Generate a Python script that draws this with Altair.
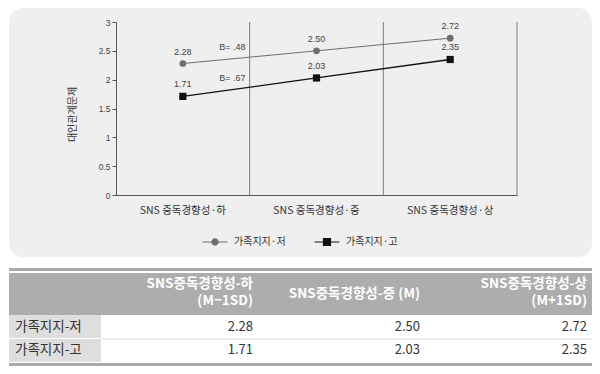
import altair as alt
import pandas as pd

# ---------------- data ----------------
categories = ["SNS 중독경향성·하", "SNS 중독경향성·중", "SNS 중독경향성·상"]
series = ["가족지지·저", "가족지지·고"]
low_support = [2.28, 2.50, 2.72]
high_support = [1.71, 2.03, 2.35]
b_labels = ["B= .48", "B= .67"]
y_ticks = [0, 0.5, 1, 1.5, 2, 2.5, 3]

table_columns = ["SNS중독경향성-하\n(M−1SD)", "SNS중독경향성-중 (M)", "SNS중독경향성-상\n(M+1SD)"]
table_rows = ["가족지지-저", "가족지지-고"]

KFONT = "Noto Sans CJK KR"
LFONT = "Liberation Sans, Noto Sans CJK KR"

series_values = [low_support, high_support]
records = []
for s, vals in zip(series, series_values):
    for c, v in zip(categories, vals):
        records.append({"series": s, "cat": c, "value": v})
df = pd.DataFrame(records)

# B annotations: anchored on the line segment between first and second level
frac = 0.37
b_records = []
for s, vals, lab in zip(series, series_values, b_labels):
    b_records.append({"series": s, "cat": categories[0], "label": lab,
                      "anchor": vals[0] + (vals[1] - vals[0]) * frac})
df_b = pd.DataFrame(b_records)

t_records = []
for r, vals in zip(table_rows, series_values):
    for c, v in zip(table_columns, vals):
        t_records.append({"row": r, "col": c, "value": v})
df_t = pd.DataFrame(t_records)
df_rows = pd.DataFrame({"row": table_rows})
df_cols = pd.DataFrame({"col": table_columns})
df_series = pd.DataFrame({"series": series})
one = pd.DataFrame({"a": [0]})

# ---------------- scales / axes ----------------
x_scale = alt.Scale(type="band", domain=categories, paddingInner=0, paddingOuter=0)
y_scale = alt.Scale(domain=[0, 3], nice=False)
series_colors = ["#6e6e6e", "#111111"]
color_scale = alt.Scale(domain=series, range=series_colors)

x_axis = alt.Axis(title=None, labelAngle=0, ticks=False, tickSize=0, labelPadding=10,
                  labelFontSize=10.5, labelColor="#333", labelFont=KFONT,
                  domainColor="#555", grid=False, zindex=1)
y_axis = alt.Axis(values=y_ticks, format="~g", tickSize=4, tickColor="#555",
                  domainColor="#555", labelFontSize=8.5, labelColor="#444",
                  labelFont=LFONT, labelPadding=2, grid=False, zindex=1,
                  titleX=-44, titleY=92, titleAngle=270, titleAlign="center",
                  titleBaseline="middle", titleFontSize=10, titleFontWeight="normal",
                  titleColor="#333", titleFont=KFONT)
Y_TITLE = "대인관계문제"


def X(**kw):
    return alt.X("cat:N", scale=x_scale, axis=x_axis, **kw)


def Y(field):
    return alt.Y(field, scale=y_scale, axis=y_axis, title=Y_TITLE)


panel = alt.Chart(one).mark_rect(color="#efefef", cornerRadius=14).encode(
    x=alt.value(-107), x2=alt.value(476), y=alt.value(-14), y2=alt.value(235)
)

df_grid = pd.DataFrame({"cat": categories, "lo": [0] * 3, "hi": [3] * 3})
rules = alt.Chart(df_grid).mark_rule(color="#7a7a7a", strokeWidth=1).encode(
    x=X(bandPosition=1), y=Y("lo:Q"), y2="hi:Q"
)

lines = alt.Chart(df).mark_line().encode(
    x=X(), y=Y("value:Q"),
    stroke=alt.Stroke("series:N", scale=color_scale, legend=None),
    strokeWidth=alt.StrokeWidth("series:N", scale=alt.Scale(domain=series, range=[1, 1.3]), legend=None),
)

points_low = alt.Chart(df).transform_filter(alt.datum.series == series[0]).mark_point(
    filled=True, opacity=1, shape="circle", size=45
).encode(x=X(), y=Y("value:Q"), fill=alt.Fill("series:N", scale=color_scale, legend=None))

points_high = alt.Chart(df).transform_filter(alt.datum.series == series[1]).mark_point(
    filled=True, opacity=1, shape="square", size=52
).encode(x=X(), y=Y("value:Q"), fill=alt.Fill("series:N", scale=color_scale, legend=None))

value_labels = alt.Chart(df).mark_text(dy=-12, fontSize=9, color="#444", font=LFONT).encode(
    x=X(), y=Y("value:Q"), text=alt.Text("value:Q", format=".2f")
)

b_text = alt.Chart(df_b).mark_text(dy=-12, fontSize=9, color="#444", font=LFONT).encode(
    x=X(bandPosition=0.87), y=Y("anchor:Q"), text="label:N"
)

top = alt.layer(panel, rules, lines, points_low, points_high, value_labels, b_text)


# ---------------- legend (drawn as marks on its own band scale) ----------------
def ring(r):
    return f"M{r},0A{r},{r},0,1,1,{-r},0A{r},{r},0,1,1,{r},0Z"


def box(h):
    return f"M{-h},{-h}H{h}V{h}H{-h}Z"


seg = "M-0.89,0H0.89"
circle_path = seg + "".join(ring(r) for r in [0.22, 0.18, 0.14, 0.10, 0.06, 0.02])
square_path = seg + "".join(box(h) for h in [0.25, 0.21, 0.17, 0.13, 0.09, 0.05, 0.01])

leg_x = alt.Scale(type="band", domain=series, range=[85, 309], paddingInner=0, paddingOuter=0)

legend_symbols = alt.Chart(df_series).mark_point(
    filled=False, size=784, strokeWidth=1.2, opacity=1
).encode(
    x=alt.X("series:N", scale=leg_x, bandPosition=0.125, axis=None),
    y=alt.value(220),
    shape=alt.Shape("series:N", scale=alt.Scale(domain=series, range=[circle_path, square_path]), legend=None),
    stroke=alt.Stroke("series:N", scale=color_scale, legend=None),
)
legend_labels = alt.Chart(df_series).mark_text(
    align="left", baseline="middle", dx=33, fontSize=10, color="#333", font=KFONT
).encode(
    x=alt.X("series:N", scale=leg_x, bandPosition=0, axis=None),
    y=alt.value(220),
    text="series:N",
)
legend_group = alt.layer(legend_symbols, legend_labels)

# ---------------- table ----------------
tx_scale = alt.Scale(type="band", domain=table_columns, range=[-22, 479], paddingInner=0, paddingOuter=0)
ty_scale = alt.Scale(type="band", domain=table_rows, range=[293, 340], paddingInner=0.04, paddingOuter=0)
TX = dict(scale=tx_scale, axis=None)
TY = dict(scale=ty_scale, axis=None)

top_border = alt.Chart(one).mark_rect(color="#aaaaaa").encode(
    x=alt.value(-107), x2=alt.value(476), y=alt.value(246), y2=alt.value(249))
header_bg = alt.Chart(one).mark_rect(color="#adadad").encode(
    x=alt.value(-107), x2=alt.value(476), y=alt.value(251), y2=alt.value(293))
bottom_border = alt.Chart(one).mark_rect(color="#aaaaaa").encode(
    x=alt.value(-107), x2=alt.value(476), y=alt.value(341), y2=alt.value(344))
row_bg = alt.Chart(df_rows).mark_rect(color="#dedede").encode(
    x=alt.value(-107), x2=alt.value(-15), y=alt.Y("row:N", **TY))
sep = alt.Chart(df_rows.iloc[1:]).mark_rule(color="#d9d9d9", strokeWidth=1).encode(
    x=alt.value(-15), x2=alt.value(476), y=alt.Y("row:N", bandPosition=0, **TY))
header_multi = alt.Chart(df_cols).transform_filter("indexof(datum.col, '\\n') >= 0").mark_text(
    align="right", baseline="middle", lineBreak="\n", lineHeight=17, fontSize=13.5,
    fontWeight="bold", color="white", font=KFONT, dx=-8
).encode(x=alt.X("col:N", bandPosition=1, **TX), y=alt.value(262), text="col:N")
header_single = alt.Chart(df_cols).transform_filter("indexof(datum.col, '\\n') < 0").mark_text(
    align="right", baseline="middle", fontSize=13.5, fontWeight="bold",
    color="white", font=KFONT, dx=-8
).encode(x=alt.X("col:N", bandPosition=1, **TX), y=alt.value(272), text="col:N")
row_text = alt.Chart(df_rows).mark_text(
    align="left", baseline="middle", fontSize=13.5, color="#333", font=KFONT
).encode(x=alt.value(-101), y=alt.Y("row:N", **TY), text="row:N")
cell_text = alt.Chart(df_t).mark_text(
    align="right", baseline="middle", fontSize=13, color="#333", font=KFONT, dx=-8
).encode(x=alt.X("col:N", bandPosition=1, **TX), y=alt.Y("row:N", **TY),
         text=alt.Text("value:Q", format=".2f"))

table = alt.layer(top_border, header_bg, bottom_border, row_bg, sep,
                  header_multi, header_single, row_text, cell_text)

chart = alt.layer(top, legend_group, table).resolve_scale(
    x="independent", y="independent"
).properties(
    width=401, height=173,
    autosize=alt.AutoSizeParams(type="none"),
    padding={"left": 108, "top": 14, "right": 75, "bottom": 171},
    background="white",
).configure_view(stroke=None)

chart.save("out.html", embed_options={"renderer": "svg", "actions": False})
